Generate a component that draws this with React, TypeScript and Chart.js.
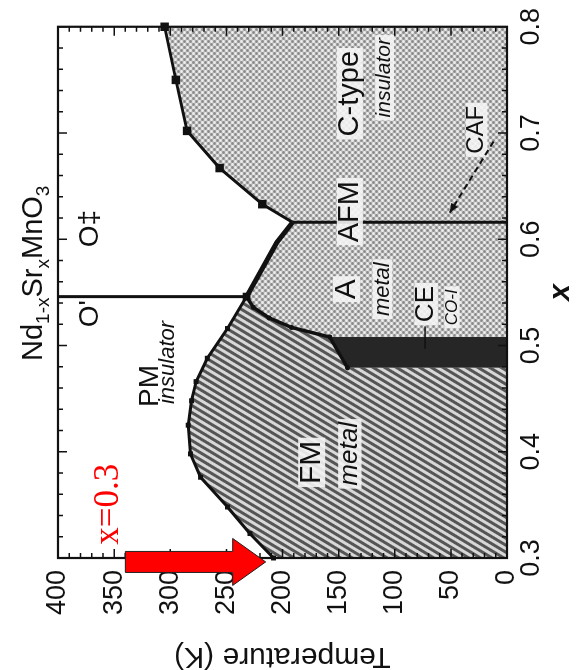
import { useEffect, useRef } from 'react';
import { Chart, registerables } from 'chart.js';

Chart.register(...registerables);

// ---------- axes ----------
const xMin = 0.3;
const xMax = 0.8;
const tMin = 0;
const tMax = 400;
const xMajor = [0.3, 0.4, 0.5, 0.6, 0.7, 0.8];
const tMajor = [0, 50, 100, 150, 200, 250, 300, 350, 400];
const xMinorStep = 0.02;
const tMinorStep = 10;

// ---------- phase boundaries (composition x, temperature K) ----------
// PM -> FM (Curie temperature)
const tcX = [0.300, 0.323, 0.348, 0.376, 0.398, 0.425, 0.448, 0.466, 0.488, 0.516, 0.546];
const tcT = [208, 229, 249, 273, 282, 284, 281, 277, 267, 249, 232];
// FM -> A-type / CE boundary
const lowX = [0.546, 0.536, 0.526, 0.517, 0.508, 0.479];
const lowT = [232, 226, 212, 192, 158, 142];
// PM -> A-type AFM
const aX = [0.546, 0.597, 0.616];
const aT = [232, 205, 191];
// PM -> C-type AFM
const cX = [0.616, 0.633, 0.667, 0.702, 0.750, 0.800];
const cT = [191, 218, 256, 285, 295, 305];
// O' / O‡ structural boundary
const structX = 0.546;

// ---------- text labels ----------
const labelText = ["O'", 'O‡', 'PM', 'insulator', 'FM', 'metal', 'A', 'metal', 'CE', 'CO-I', 'AFM', 'C-type', 'insulator', 'CAF'];
const labelX = [0.530, 0.610, 0.462, 0.484, 0.390, 0.398, 0.553, 0.553, 0.539, 0.536, 0.626, 0.737, 0.752, 0.703];
const labelT = [371, 371, 318, 302, 174, 140, 143, 111, 72, 49, 140, 140, 109, 27];

const titleParts = ['Nd', '1-x', 'Sr', 'x', 'MnO', '3'];
const titleSub = [false, true, false, true, false, true];
const titleCenterX = 0.568;

// CAF pointer and CE leader (data coordinates)
const cafArrowX = [0.692, 0.625];
const cafArrowT = [12, 51];
const ceLeaderX = [0.497, 0.518];
const ceLeaderT = [73, 73];

// red annotation
const noteText = 'x=0.3';
const noteX = 0.3505;
const noteT = 355;
const redArrowX = 0.2963;
const redArrowT = [340, 215];

const FONT = '"Liberation Sans", Arial, Helvetica, sans-serif';

const pts = (xs: number[], ts: number[]) => xs.map((x, i) => ({ x, y: ts[i] }));

function makeHatch(): CanvasPattern | string {
  const c = document.createElement('canvas');
  c.width = 6;
  c.height = 6;
  const g = c.getContext('2d');
  if (!g) return '#999';
  g.fillStyle = '#d8d8d8';
  g.fillRect(0, 0, 6, 6);
  g.fillStyle = '#555555';
  g.fillRect(0, 0, 6, 3);
  const p = g.createPattern(c, 'repeat');
  if (!p) return '#999';
  p.setTransform(new DOMMatrix().rotate(-59));
  return p;
}

function makeDots(): CanvasPattern | string {
  const c = document.createElement('canvas');
  c.width = 6;
  c.height = 6;
  const g = c.getContext('2d');
  if (!g) return '#c4c4c4';
  g.fillStyle = '#c2c2c2';
  g.fillRect(0, 0, 6, 6);
  const dot = (x: number, y: number, r: number) => {
    g.beginPath();
    g.arc(x, y, r, 0, Math.PI * 2);
    g.fill();
  };
  g.fillStyle = '#878787';
  dot(1.5, 1.5, 1.35);
  dot(4.5, 4.5, 1.35);
  g.fillStyle = '#f0f0f0';
  dot(4.5, 1.5, 1.35);
  dot(1.5, 4.5, 1.35);
  return g.createPattern(c, 'repeat') || '#c4c4c4';
}

export default function App() {
  const ref = useRef<HTMLCanvasElement>(null);

  useEffect(() => {
    const canvas = ref.current;
    if (!canvas) return;
    const hatch = makeHatch();
    const dots = makeDots();

    const n = lowX.length;
    const fmPoly = [
      { x: tcX[0], y: tMin },
      ...pts(tcX, tcT),
      ...pts(lowX.slice(1), lowT.slice(1)),
      { x: lowX[n - 1], y: tMin },
    ];
    const afmPoly = [
      { x: lowX[n - 2], y: tMin },
      ...pts(lowX.slice(0, n - 1).reverse(), lowT.slice(0, n - 1).reverse()),
      ...pts(aX.slice(1), aT.slice(1)),
      ...pts(cX.slice(1), cT.slice(1)),
      { x: cX[cX.length - 1], y: tMin },
    ];
    const cePoly = [
      { x: lowX[n - 1], y: tMin },
      { x: lowX[n - 1], y: lowT[n - 1] },
      { x: lowX[n - 2], y: lowT[n - 2] },
      { x: lowX[n - 2], y: tMin },
    ];

    const italicSet = new Set([3, 5, 7, 9, 12]);
    const labelSize = [28, 28, 28, 22, 30, 26, 30, 22, 26, 17, 29, 29, 21, 24];
    const haloFrom = 4;

    const decor = {
      id: 'decor',
      afterDatasetsDraw(chart: any) {
        const { ctx, chartArea: a } = chart;
        const xs = chart.scales.x;
        const ys = chart.scales.y;
        ctx.save();
        // region labels
        labelText.forEach((txt, i) => {
          const px = xs.getPixelForValue(labelX[i]);
          const py = ys.getPixelForValue(labelT[i]);
          const size = labelSize[i];
          ctx.font = `${italicSet.has(i) ? 'italic ' : ''}${size}px ${FONT}`;
          ctx.textAlign = 'center';
          ctx.textBaseline = 'middle';
          if (i >= haloFrom) {
            const w = ctx.measureText(txt).width;
            ctx.fillStyle = 'rgba(244,244,244,0.9)';
            ctx.fillRect(px - w / 2 - 3, py - size * 0.45, w + 6, size * 0.9);
          }
          ctx.fillStyle = '#111';
          ctx.fillText(txt, px, py);
        });
        // CE leader
        ctx.strokeStyle = '#111';
        ctx.lineWidth = 1.5;
        ctx.beginPath();
        ctx.moveTo(xs.getPixelForValue(ceLeaderX[0]), ys.getPixelForValue(ceLeaderT[0]));
        ctx.lineTo(xs.getPixelForValue(ceLeaderX[1]), ys.getPixelForValue(ceLeaderT[1]));
        ctx.stroke();
        // CAF pointer
        const x0 = xs.getPixelForValue(cafArrowX[0]);
        const y0 = ys.getPixelForValue(cafArrowT[0]);
        const x1 = xs.getPixelForValue(cafArrowX[1]);
        const y1 = ys.getPixelForValue(cafArrowT[1]);
        ctx.lineWidth = 2;
        ctx.setLineDash([6, 4]);
        ctx.beginPath();
        ctx.moveTo(x0, y0);
        ctx.lineTo(x1, y1);
        ctx.stroke();
        ctx.setLineDash([]);
        const ang = Math.atan2(y1 - y0, x1 - x0);
        ctx.fillStyle = '#111';
        ctx.beginPath();
        ctx.moveTo(x1, y1);
        ctx.lineTo(x1 - 10 * Math.cos(ang - 0.4), y1 - 10 * Math.sin(ang - 0.4));
        ctx.lineTo(x1 - 10 * Math.cos(ang + 0.4), y1 - 10 * Math.sin(ang + 0.4));
        ctx.closePath();
        ctx.fill();

        // ticks on all four sides (inward)
        ctx.strokeStyle = '#111';
        ctx.lineWidth = 1.5;
        ctx.beginPath();
        for (let k = 0; xMin + k * xMinorStep <= xMax + 1e-9; k++) {
          const v = xMin + k * xMinorStep;
          const major = xMajor.some((m) => Math.abs(m - v) < 1e-6);
          const len = major ? 9 : 5;
          const px = xs.getPixelForValue(v);
          ctx.moveTo(px, a.bottom);
          ctx.lineTo(px, a.bottom - len);
          ctx.moveTo(px, a.top);
          ctx.lineTo(px, a.top + len);
        }
        for (let k = 0; tMin + k * tMinorStep <= tMax + 1e-9; k++) {
          const v = tMin + k * tMinorStep;
          const major = tMajor.includes(v);
          const len = major ? 9 : 5;
          const py = ys.getPixelForValue(v);
          ctx.moveTo(a.left, py);
          ctx.lineTo(a.left + len, py);
          ctx.moveTo(a.right, py);
          ctx.lineTo(a.right - len, py);
        }
        ctx.stroke();
        // frame
        ctx.lineWidth = 2.2;
        ctx.strokeRect(a.left, a.top, a.right - a.left, a.bottom - a.top);

        // title with subscripts
        const big = 29;
        const small = 19;
        let total = 0;
        titleParts.forEach((p, i) => {
          ctx.font = `${titleSub[i] ? small : big}px ${FONT}`;
          total += ctx.measureText(p).width;
        });
        let cx = xs.getPixelForValue(titleCenterX) - total / 2;
        const base = a.top - 16;
        ctx.textAlign = 'left';
        ctx.textBaseline = 'alphabetic';
        ctx.fillStyle = '#111';
        titleParts.forEach((p, i) => {
          ctx.font = `${titleSub[i] ? small : big}px ${FONT}`;
          ctx.fillText(p, cx, base + (titleSub[i] ? 7 : 0));
          cx += ctx.measureText(p).width;
        });
        ctx.restore();
      },
      afterDraw(chart: any) {
        const { ctx } = chart;
        const xs = chart.scales.x;
        const ys = chart.scales.y;
        ctx.save();
        // red annotation text
        ctx.font = `35px "Liberation Serif", "Times New Roman", serif`;
        ctx.textAlign = 'center';
        ctx.textBaseline = 'middle';
        ctx.fillStyle = '#ff0000';
        ctx.fillText(noteText, xs.getPixelForValue(noteX), ys.getPixelForValue(noteT));
        // red arrow
        const cxp = xs.getPixelForValue(redArrowX);
        const yFrom = ys.getPixelForValue(redArrowT[0]);
        const yTip = ys.getPixelForValue(redArrowT[1]);
        const headLen = 33;
        const bodyHalf = 10.5;
        const headHalf = 23.5;
        ctx.beginPath();
        ctx.moveTo(cxp - bodyHalf, yFrom);
        ctx.lineTo(cxp + bodyHalf, yFrom);
        ctx.lineTo(cxp + bodyHalf, yTip - headLen);
        ctx.lineTo(cxp + headHalf, yTip - headLen);
        ctx.lineTo(cxp, yTip);
        ctx.lineTo(cxp - headHalf, yTip - headLen);
        ctx.lineTo(cxp - bodyHalf, yTip - headLen);
        ctx.closePath();
        ctx.fillStyle = '#ff0000';
        ctx.fill();
        ctx.strokeStyle = '#222';
        ctx.lineWidth = 1;
        ctx.stroke();
        ctx.restore();
      },
    };

    const fillDs = (data: any[], bg: any) => ({
      data,
      fill: 'shape',
      backgroundColor: bg,
      borderColor: 'transparent',
      borderWidth: 0,
      pointRadius: 0,
      order: 10,
    });
    const lineDs = (data: any[], width: number, radius: any, style: string) => ({
      data,
      fill: false,
      borderColor: '#111',
      backgroundColor: '#111',
      borderWidth: width,
      pointRadius: radius,
      pointStyle: style,
      pointBorderWidth: 0,
      pointBackgroundColor: '#111',
      order: 1,
      clip: false as const,
    });

    const chart = new Chart(canvas, {
      type: 'line',
      data: {
        datasets: [
          fillDs(fmPoly, hatch),
          fillDs(afmPoly, dots),
          fillDs(cePoly, '#262626'),
          lineDs(pts(tcX, tcT), 3, 3.5, 'rect'),
          lineDs(pts(lowX, lowT), 3.5, 2.5, 'circle'),
          lineDs(pts(aX, aT), 5, [5.5, 0, 0], 'rect'),
          lineDs(pts(cX, cT), 3, cT.map((_, i) => (i === 0 ? 0 : 6)), 'rect'),
          lineDs([{ x: structX, y: tcT[tcT.length - 1] }, { x: structX, y: tMax }], 3, 0, 'circle'),
          lineDs([{ x: aX[aX.length - 1], y: tMin }, { x: aX[aX.length - 1], y: aT[aT.length - 1] }], 3, 0, 'circle'),
        ] as any,
      },
      options: {
        animation: false,
        responsive: false,
        devicePixelRatio: 1,
        events: [],
        layout: { padding: { top: 58, right: 23, bottom: 0, left: 0 } },
        plugins: {
          legend: { display: false },
          tooltip: { enabled: false },
          title: { display: false },
        },
        elements: { line: { tension: 0 } },
        scales: {
          x: {
            type: 'linear',
            position: 'bottom',
            min: xMin,
            max: xMax,
            afterBuildTicks: (s: any) => {
              s.ticks = xMajor.map((v) => ({ value: v }));
            },
            afterFit: (s: any) => {
              s.height = 74;
            },
            ticks: {
              font: { family: FONT, size: 27 },
              color: '#111',
              padding: 8,
              maxRotation: 0,
              minRotation: 0,
              autoSkip: false,
              callback: (v: any) => Number(v).toFixed(1),
            },
            grid: { display: false, drawTicks: false },
            border: { display: false },
            title: {
              display: true,
              text: 'x',
              color: '#111',
              font: { family: FONT, size: 30, weight: 'bold', style: 'italic' },
              padding: { top: 0, bottom: 2 },
            },
          },
          y: {
            type: 'linear',
            position: 'left',
            min: tMin,
            max: tMax,
            afterBuildTicks: (s: any) => {
              s.ticks = tMajor.map((v) => ({ value: v }));
            },
            afterFit: (s: any) => {
              s.width = 112;
            },
            ticks: {
              font: { family: FONT, size: 27 },
              color: '#111',
              padding: 12,
              autoSkip: false,
              callback: (v: any) => String(v),
            },
            grid: { display: false, drawTicks: false },
            border: { display: false },
            title: {
              display: true,
              text: 'Temperature (K)',
              color: '#111',
              font: { family: FONT, size: 30 },
              padding: { top: -4, bottom: 0 },
            },
          },
        },
      } as any,
      plugins: [decor],
    });
    return () => chart.destroy();
  }, []);

  return (
    <div
      style={{
        position: 'fixed',
        left: 0,
        top: 0,
        width: 581,
        height: 670,
        overflow: 'hidden',
        background: '#ffffff',
      }}
    >
      <canvas
        ref={ref}
        width={670}
        height={581}
        style={{
          position: 'absolute',
          left: 0,
          top: 0,
          width: 670,
          height: 581,
          transformOrigin: '0 0',
          transform: 'translate(0px, 670px) rotate(-90deg)',
        }}
      />
    </div>
  );
}
